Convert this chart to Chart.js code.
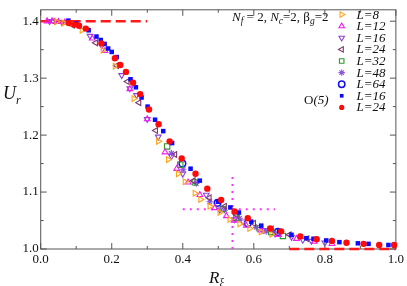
<!DOCTYPE html>
<html>
<head>
<meta charset="utf-8">
<script src="https://cdn.jsdelivr.net/npm/chart.js@4.4.1/dist/chart.umd.min.js"></script>
<style>
    html, body { margin: 0; padding: 0; background: #fff; }
    .preload { position: absolute; left: -999px; top: 0; font-family: 'Liberation Serif'; }
</style>
</head>
<body>
<span class="preload">0.2 <i>L=8</i></span>
<canvas id="chart" width="407" height="286"></canvas>
<script>
// tick labels
const xTicks = [0.0, 0.2, 0.4, 0.6, 0.8, 1.0];
const yTicks = [1.0, 1.1, 1.2, 1.3, 1.4];
const xMinor = [0.1, 0.3, 0.5, 0.7, 0.9];
const yMinor = [1.05, 1.15, 1.25, 1.35];

// Z2 gauge data, N_f=2, N_c=2, beta_g=2  [R_xi, U_r]
const l8 = [[0.045, 1.399], [0.065, 1.397], [0.085, 1.396], [0.116, 1.384], [0.175, 1.349], [0.209, 1.321], [0.262, 1.264], [0.331, 1.189], [0.359, 1.157], [0.387, 1.132], [0.406, 1.118], [0.434, 1.098], [0.45, 1.087], [0.476, 1.075], [0.504, 1.064], [0.532, 1.052], [0.56, 1.044], [0.588, 1.036], [0.62, 1.03], [0.65, 1.026]];
const l12 = [[0.018, 1.4], [0.032, 1.4], [0.05, 1.399], [0.068, 1.398], [0.145, 1.37], [0.181, 1.348], [0.251, 1.281], [0.30, 1.228], [0.35, 1.17], [0.383, 1.141], [0.415, 1.117], [0.448, 1.095], [0.49, 1.072], [0.523, 1.058], [0.545, 1.05], [0.579, 1.041], [0.62, 1.033], [0.67, 1.025], [0.72, 1.018], [0.77, 1.013], [0.82, 1.009]];
const l16 = [[0.025, 1.4], [0.06, 1.398], [0.139, 1.374], [0.172, 1.357], [0.228, 1.305], [0.251, 1.282], [0.27, 1.27], [0.30, 1.228], [0.331, 1.197], [0.368, 1.163], [0.40, 1.132], [0.466, 1.095], [0.504, 1.069], [0.546, 1.052], [0.57, 1.048], [0.626, 1.033], [0.66, 1.027], [0.706, 1.021], [0.738, 1.016], [0.762, 1.014], [0.80, 1.011]];
const l24 = [[0.035, 1.4], [0.09, 1.393], [0.155, 1.362], [0.214, 1.322], [0.244, 1.294], [0.277, 1.257], [0.324, 1.208], [0.378, 1.166], [0.43, 1.12], [0.475, 1.09], [0.518, 1.075], [0.551, 1.06], [0.60, 1.045], [0.65, 1.035], [0.70, 1.025], [0.75, 1.018]];
const l32 = [[0.356, 1.18], [0.393, 1.148], [0.434, 1.117], [0.513, 1.07], [0.551, 1.055], [0.617, 1.036], [0.649, 1.03], [0.682, 1.023]];
const l48 = [[0.368, 1.168], [0.401, 1.14], [0.438, 1.115], [0.476, 1.083], [0.518, 1.068], [0.56, 1.054], [0.607, 1.038], [0.635, 1.031]];
const l64 = [[0.399, 1.15], [0.498, 1.081], [0.583, 1.045], [0.668, 1.03]];

// O(5) data
const o5L16 = [[0.078, 1.401], [0.10, 1.396], [0.135, 1.384], [0.157, 1.373], [0.169, 1.367], [0.18, 1.36], [0.19, 1.352], [0.2, 1.346], [0.214, 1.337], [0.253, 1.298], [0.268, 1.284], [0.284, 1.266], [0.301, 1.25], [0.322, 1.227], [0.345, 1.207], [0.37, 1.186], [0.422, 1.141], [0.448, 1.12], [0.499, 1.083], [0.534, 1.073], [0.558, 1.064], [0.593, 1.048], [0.621, 1.041], [0.671, 1.031], [0.706, 1.025], [0.748, 1.019], [0.768, 1.018], [0.804, 1.015], [0.841, 1.012], [0.893, 1.01], [0.923, 1.009], [0.979, 1.007]];
const o5L24 = [[0.079, 1.397], [0.096, 1.394], [0.108, 1.392], [0.127, 1.387], [0.171, 1.361], [0.209, 1.335], [0.224, 1.323], [0.24, 1.311], [0.26, 1.292], [0.28, 1.272], [0.305, 1.245], [0.332, 1.219], [0.363, 1.189], [0.397, 1.159], [0.436, 1.132], [0.469, 1.106], [0.508, 1.086], [0.546, 1.066], [0.583, 1.054], [0.646, 1.036], [0.677, 1.031], [0.731, 1.022], [0.777, 1.017], [0.82, 1.014], [0.861, 1.011], [0.909, 1.009], [0.953, 1.007], [0.995, 1.007]];

// reference lines
const limitHigh = [[0.0, 1.4], [0.3, 1.4]];
const limitLow = [[0.7, 1.0], [1.0, 1.0]];
const crossH = [[0.40, 1.07], [0.66, 1.07]];
const crossV = [[0.54, 1.0], [0.54, 1.135]];

const serif = "'Liberation Serif', 'Times New Roman', 'DejaVu Serif', serif";

const toPoints = (arr) => arr.map(p => ({x: p[0], y: p[1]}));

const markerSet = (label, data, style, color, opts) =>
{
    return Object.assign({
        label: label,
        data: toPoints(data),
        pointStyle: style,
        pointRadius: 3.3,
        pointBorderWidth: 1.1,
        borderColor: color,
        pointBorderColor: color,
        pointBackgroundColor: 'rgba(0,0,0,0)',
        backgroundColor: 'rgba(0,0,0,0)',
        showLine: false,
        clip: false,
        inLegend: true,
        order: 5
    }, opts || {});
};

const refLine = (data, color, dash, width) =>
{
    return {
        data: toPoints(data),
        showLine: true,
        borderColor: color,
        borderWidth: width,
        borderDash: dash,
        pointRadius: 0,
        fill: false,
        clip: false,
        inLegend: false,
        order: 20
    };
};

const datasets = [
    markerSet('L=8', l8, 'triangle', '#ffa31a', {pointRotation: 90}),
    markerSet('L=12', l12, 'triangle', '#f01ef0', {}),
    markerSet('L=16', l16, 'triangle', '#8a45d0', {pointRotation: 180}),
    markerSet('L=24', l24, 'triangle', '#7a3868', {pointRotation: 270}),
    markerSet('L=32', l32, 'rect', '#2a9a2a', {pointRadius: 3.8}),
    markerSet('L=48', l48, 'star', '#9055e0', {}),
    markerSet('L=64', l64, 'circle', '#1010f0', {pointRadius: 3.3, pointBorderWidth: 1.5}),
    markerSet('L=16', o5L16, 'rect', '#0a0aff', {pointRadius: 3.2, pointBorderWidth: 0, pointBackgroundColor: '#0a0aff', order: 2, o5: true}),
    markerSet('L=24', o5L24, 'circle', '#ff0a0a', {pointRadius: 3.2, pointBorderWidth: 0, pointBackgroundColor: '#ff0a0a', order: 1, o5: true}),
    refLine(limitHigh, '#ff1a1a', [10, 5], 2.5),
    refLine(limitLow, '#ff1a1a', [10, 5], 2.5),
    refLine(crossH, '#ff33ff', [2, 5], 2),
    refLine(crossV, '#ff33ff', [2, 5], 2)
];

// draw text made of pieces with their own font and baseline shift
const drawRich = (ctx, x, y, parts) =>
{
    let cx = x;
    for (const p of parts)
    {
        ctx.font = p.f;
        ctx.fillText(p.t, cx, y + (p.dy || 0));
        cx += ctx.measureText(p.t).width;
    }
};

const frameTicks = {
    id: 'frameTicks',
    beforeDatasetsDraw(chart)
    {
        const ctx = chart.ctx;
        const a = chart.chartArea;
        const xs = chart.scales.x;
        const ys = chart.scales.y;
        ctx.save();
        ctx.strokeStyle = '#555';
        ctx.lineWidth = 1;
        ctx.strokeRect(a.left, a.top, a.right - a.left, a.bottom - a.top);
        ctx.beginPath();
        const xTick = (v, len) =>
        {
            const px = xs.getPixelForValue(v);
            ctx.moveTo(px, a.bottom); ctx.lineTo(px, a.bottom - len);
            ctx.moveTo(px, a.top); ctx.lineTo(px, a.top + len);
        };
        const yTick = (v, len) =>
        {
            const py = ys.getPixelForValue(v);
            ctx.moveTo(a.left, py); ctx.lineTo(a.left + len, py);
            ctx.moveTo(a.right, py); ctx.lineTo(a.right - len, py);
        };
        xTicks.forEach(v => xTick(v, 6));
        xMinor.forEach(v => xTick(v, 3));
        yTicks.forEach(v => yTick(v, 6));
        yMinor.forEach(v => yTick(v, 3));
        ctx.stroke();
        ctx.restore();
    }
};

const annotations = {
    id: 'annotations',
    afterDraw(chart)
    {
        const ctx = chart.ctx;
        ctx.save();
        ctx.fillStyle = '#111';
        ctx.textBaseline = 'alphabetic';

        const it = 'italic 13px ' + serif;
        const rm = '13px ' + serif;
        const sub = 'italic 9.5px ' + serif;
        drawRich(ctx, 232, 21, [
            {t: 'N', f: it}, {t: 'f', f: sub, dy: 3}, {t: ' = 2, ', f: rm},
            {t: 'N', f: it}, {t: 'c', f: sub, dy: 3}, {t: '=2, ', f: rm},
            {t: '\u03b2', f: rm}, {t: 'g', f: sub, dy: 3}, {t: '=2', f: rm}
        ]);

        // axis titles
        drawRich(ctx, 3, 99, [{t: 'U', f: 'italic 18px ' + serif}, {t: 'r', f: 'italic 12px ' + serif, dy: 5}]);
        drawRich(ctx, 209, 283, [{t: 'R', f: 'italic 17px ' + serif}, {t: '\u03be', f: '12px ' + serif, dy: 4}]);

        // legend
        let row = 0;
        const helpers = Chart.helpers;
        chart.data.datasets.forEach(ds =>
        {
            if (!ds.inLegend)
            {
                return;
            }
            const y = 14.6 + row * 11.6;
            ctx.save();
            ctx.strokeStyle = ds.pointBorderColor;
            ctx.fillStyle = ds.pointBackgroundColor;
            ctx.lineWidth = ds.pointBorderWidth;
            helpers.drawPoint(ctx, {
                pointStyle: ds.pointStyle,
                rotation: ds.pointRotation || 0,
                radius: ds.o5 ? 2.6 : 3.2,
                borderWidth: ds.pointBorderWidth
            }, 341.7, y);
            ctx.restore();
            ctx.font = 'italic 13px ' + serif;
            ctx.textBaseline = 'middle';
            ctx.fillText(ds.label, 356.5, y + 0.5);
            row++;
        });
        ctx.textBaseline = 'middle';
        drawRich(ctx, 304, 101, [{t: 'O', f: '13px ' + serif}, {t: '(5)', f: 'italic 13px ' + serif}]);
        ctx.restore();
    }
};

const tickFont = {family: serif, size: 13};

const makeChart = () =>
{
    const chart = new Chart(document.getElementById('chart'), {
        type: 'scatter',
        data: {datasets: datasets},
        options: {
            responsive: false,
            animation: false,
            layout: {padding: {top: 1, right: 10.3, left: 0, bottom: 0}},
            plugins: {legend: {display: false}, tooltip: {enabled: false}},
            scales: {
                x: {
                    type: 'linear',
                    min: 0,
                    max: 1,
                    grid: {display: false, drawTicks: false},
                    border: {display: false},
                    afterBuildTicks: (scale) => { scale.ticks = xTicks.map(v => ({value: v})); },
                    afterFit: (scale) => { scale.height = 37; },
                    ticks: {font: tickFont, color: '#111', padding: 3, maxRotation: 0, callback: (v) => v.toFixed(1)}
                },
                y: {
                    type: 'linear',
                    min: 1.0,
                    max: 1.42,
                    grid: {display: false, drawTicks: false},
                    border: {display: false},
                    afterBuildTicks: (scale) => { scale.ticks = yTicks.map(v => ({value: v})); },
                    afterFit: (scale) => { scale.width = 40.7; },
                    ticks: {font: tickFont, color: '#111', padding: 2, callback: (v) => v.toFixed(1)}
                }
            }
        },
        plugins: [frameTicks, annotations]
    });
    setTimeout(() => chart.update(), 200);
};

Promise.all([
    document.fonts.load("13px 'Liberation Serif'"),
    document.fonts.load("italic 13px 'Liberation Serif'")
]).then(makeChart, makeChart);
</script>
</body>
</html>
